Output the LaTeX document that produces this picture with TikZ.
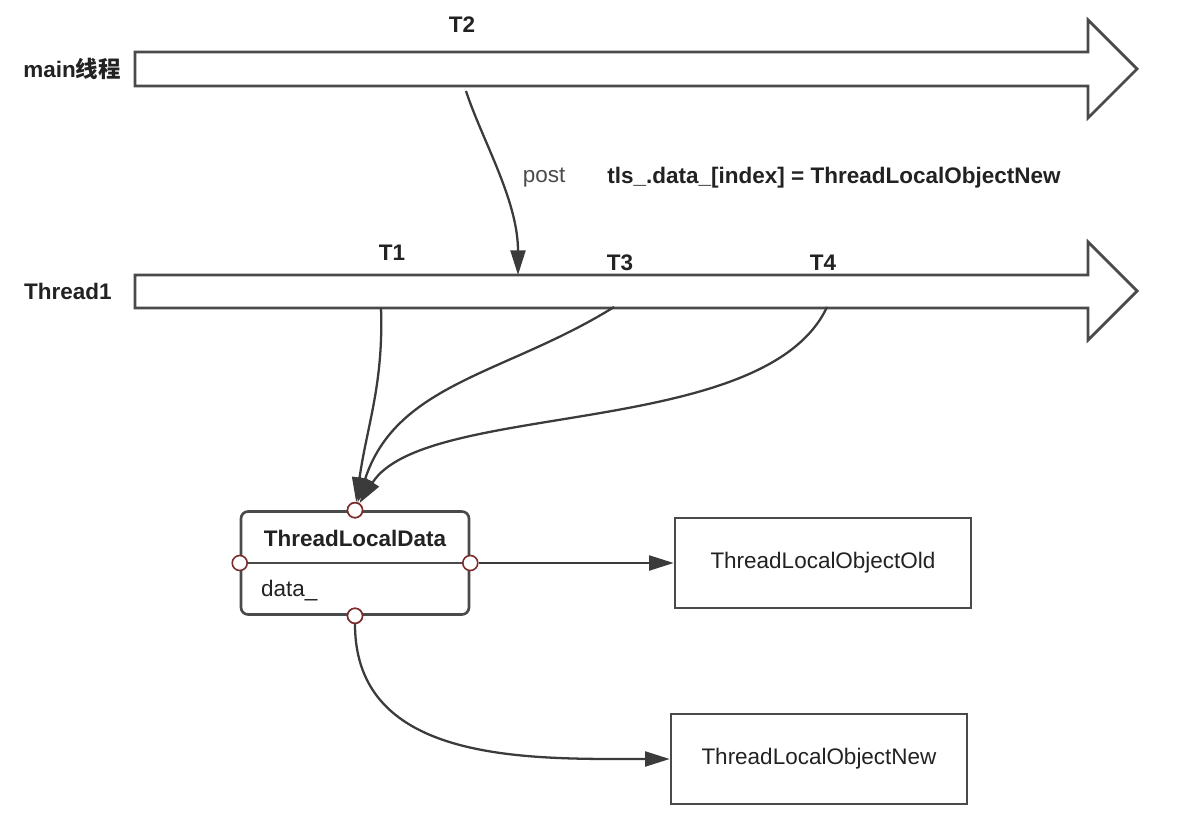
\documentclass[tikz,border=0pt]{standalone}
\usepackage{fontspec}
\setmainfont{Liberation Sans}
\newfontfamily\cjk{Noto Sans CJK SC}
\usetikzlibrary{arrows.meta}

\definecolor{linegray}{HTML}{4A4A4A}
\definecolor{textgray}{HTML}{222222}
\definecolor{portred}{HTML}{7B2D2D}

\tikzset{
  txt/.style={text=textgray, font=\fontsize{12.8}{15}\selectfont},
  btxt/.style={text=textgray, font=\fontsize{12.8}{15}\selectfont\bfseries},
  conn/.style={draw=linegray!80!black, line width=1.3pt, -{Triangle[length=14pt,width=8.5pt]}},
  bar/.style={draw=linegray, line width=1.6pt, line join=miter, fill=white},
  objbox/.style={draw=linegray, line width=1.5pt, fill=white, minimum width=5.92cm,
    minimum height=1.8cm, text=textgray, font=\fontsize{12.8}{15}\selectfont},
  port/.style={circle, draw=portred, fill=white, line width=0.9pt, minimum size=0.3cm, inner sep=0pt},
}

\begin{document}
\begin{tikzpicture}[x=0.02cm, y=-0.02cm]
  \useasboundingbox (0,0) rectangle (1190,814);

  %% Thread timelines
  \draw[bar] (135,52) -- (1088,52) -- (1088,20) -- (1137,69) -- (1088,118) -- (1088,86) -- (135,86) -- cycle;
  \draw[bar] (135,275) -- (1088,275) -- (1088,242) -- (1137,291) -- (1088,340) -- (1088,308) -- (135,308) -- cycle;
  \node[btxt, anchor=east] (mainlbl) at (127,69) {main{\cjk 线程}};
  \node[btxt, anchor=west] (threadlbl) at (18,291) {Thread1};

  % time points
  \coordinate (t2) at (466,91);
  \coordinate (postend) at (518,275);
  \coordinate (t1) at (381,308);
  \coordinate (t3) at (614,307);
  \coordinate (t4) at (827,307);
  \node[btxt] (t2lbl) at (462,25) {T2};
  \node[btxt] (t1lbl) at (392,253) {T1};
  \node[btxt] (t3lbl) at (620,263) {T3};
  \node[btxt] (t4lbl) at (823,263) {T4};

  %% post from main thread
  \draw[conn] (t2) .. controls (482,140) and (518,200) .. (postend);
  \node[txt, text=linegray] (postlbl) at (544,178) {post};
  \node[btxt] (assign) at (834,178) {tls\_.data\_[index] = ThreadLocalObjectNew};

  %% ThreadLocalData
  \node[draw=linegray, line width=1.5pt, fill=white, rounded corners=4pt,
        minimum width=4.56cm, minimum height=2.06cm] (tld) at (355,563) {};
  \draw[draw=linegray, line width=1.5pt] (tld.west) -- (tld.east);
  \node[btxt] (tldname) at (355,538) {ThreadLocalData};
  \node[txt, anchor=west] (tldfield) at (255,591) {data\_};

  \node[objbox] (oldobj) at (823,563) {ThreadLocalObjectOld};
  \node[objbox] (newobj) at (819,759) {ThreadLocalObjectNew};

  % ports
  \node[port] (ptop) at (tld.north) {};
  \node[port] (pleft) at (tld.west) {};
  \node[port] (pright) at (tld.east) {};
  \node[port] (pbottom) at (tld.south) {};

  %% accesses from Thread1
  \draw[conn] (t1) to[out=-88, in=82] (ptop);
  \draw[conn] (t3) to[out=-148, in=72] (ptop);
  \draw[conn] (t4) .. controls (765,440) and (425,400) .. (ptop);

  \draw[conn] (pright) -- (oldobj.west);
  \draw[conn] (pbottom) to[out=-90, in=180, looseness=1.05] (newobj.west);

  % ports on top of the lines
  \node[port] at (tld.north) {};
  \node[port] at (tld.south) {};
\end{tikzpicture}
\end{document}
